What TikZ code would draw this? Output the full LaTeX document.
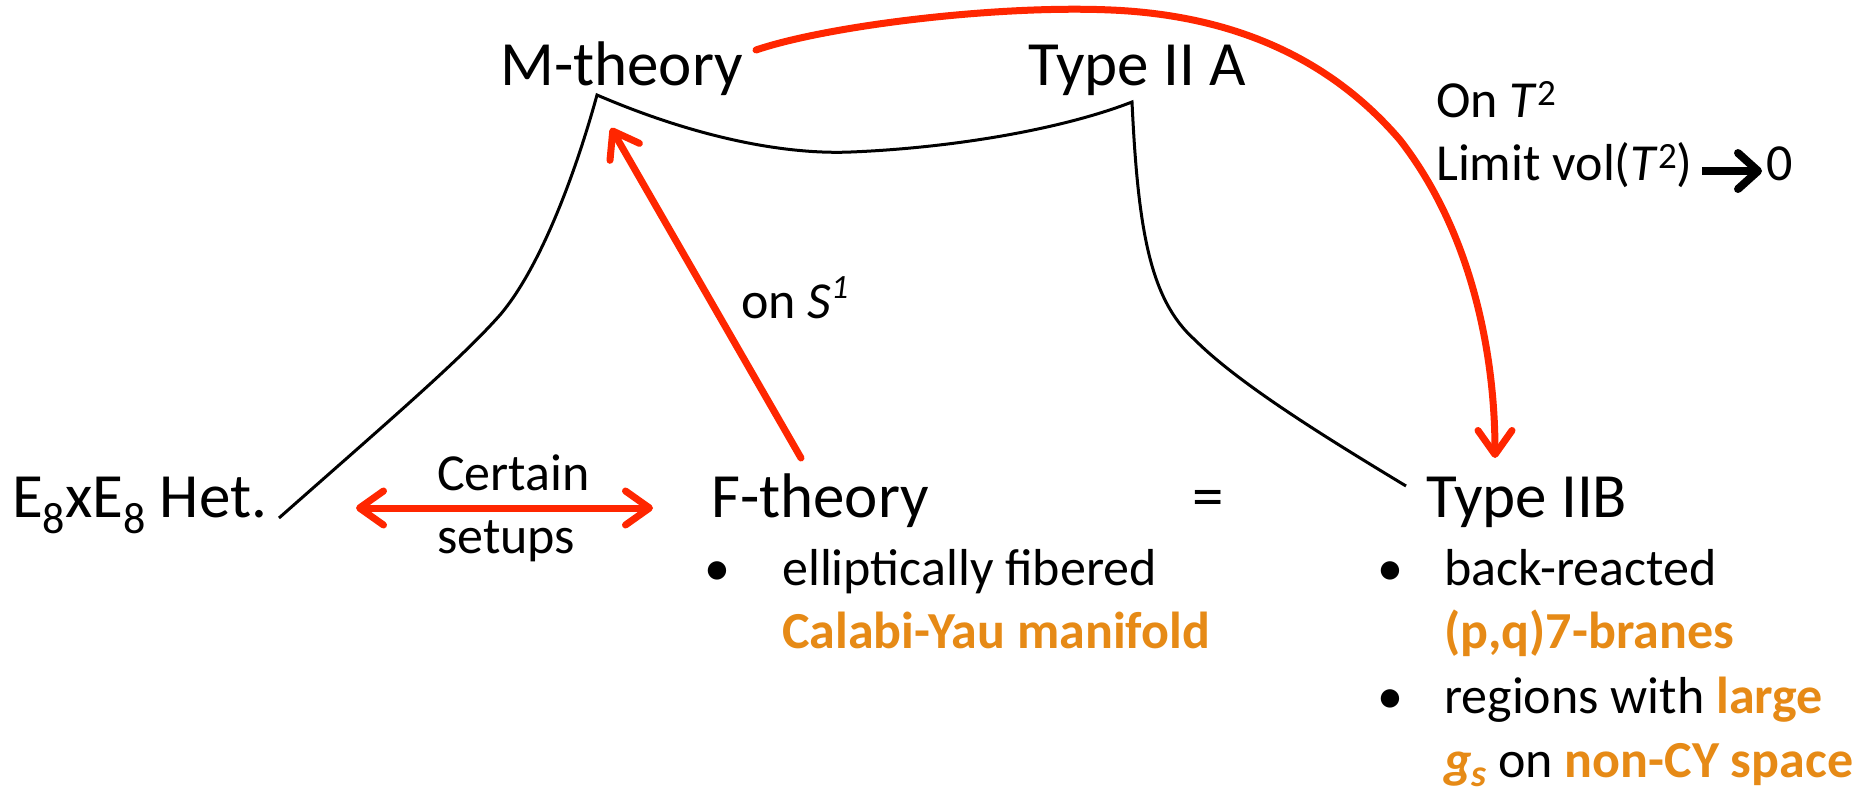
\documentclass[tikz,border=0pt]{standalone}
\usepackage{fontspec}
\setmainfont{Carlito}
\usetikzlibrary{arrows.meta}
\definecolor{redarr}{RGB}{255,38,0}
\definecolor{orng}{RGB}{230,138,22}
\newcommand{\mysup}[1]{\raisebox{12pt}{\fontsize{37}{37}\selectfont #1}}
\newcommand{\mysupb}[1]{\raisebox{20pt}{\fontsize{34}{34}\selectfont #1}}
\newcommand{\mysub}[1]{\raisebox{-16pt}{\fontsize{44}{44}\selectfont #1}}
\newcommand{\mysubs}[1]{\raisebox{-9pt}{\fontsize{38}{38}\selectfont #1}}
\begin{document}
\begin{tikzpicture}[x=1pt,y=-1pt,
  big/.style={font=\fontsize{63}{70}\selectfont, inner sep=0, anchor=base west},
  small/.style={font=\fontsize{52}{63}\selectfont, inner sep=0, anchor=base west},
  redline/.style={draw=redarr, line width=7pt, line cap=round, line join=round},
  barb/.style={-{Straight Barb[length=24pt,width=34pt,line cap=round,line join=round]}},
  dbarb/.style={{Straight Barb[length=24pt,width=34pt,line cap=round,line join=round]}-{Straight Barb[length=24pt,width=34pt,line cap=round,line join=round]}},
  blk/.style={draw=black, line width=3pt}
]
\useasboundingbox (0,0) rectangle (1866,792);

% labels
\node[big] (mth) at (500,85) {M-theory};
\node[big] (t2a) at (1028,85) {Type II A};
\node[big] (het) at (12,517) {E\mysub{8}xE\mysub{8} Het.};
\node[big] (fth) at (711,517) {F-theory};
\node[big] (eq) at (1192,517) {=};
\node[big] (t2b) at (1426,517) {Type IIB};

\node[small] (cert) at (437,490) {Certain};
\node[small] (setu) at (437,553) {setups};
\node[small] (ons1) at (741,318) {on \textit{S}\mysupb{\textit{1}}};
\node[small] (ont2) at (1436,117) {On \textit{T}\mysup{2}};
\node[small] (lim) at (1436,180) {Limit vol(\textit{T}\mysup{2})};
\node[small] (zero) at (1766,180) {0};

\node[small, anchor=base] (b1) at (717,585) {•};
\node[small] (f1) at (782,585) {elliptically fibered};
\node[small] (f2) at (782,648) {\textcolor{orng}{\bfseries Calabi-Yau manifold}};
\node[small, anchor=base] (b2) at (1390,585) {•};
\node[small] (i1) at (1444,585) {back-reacted};
\node[small] (i2) at (1444,648) {\textcolor{orng}{\bfseries (p,q)7-branes}};
\node[small, anchor=base] (b3) at (1390,713) {•};
\node[small] (i3) at (1444,713) {regions with \textcolor{orng}{\bfseries large}};
\node[small] (i4) at (1444,777) {\textcolor{orng}{\bfseries\itshape g\mysubs{s}} on \textcolor{orng}{\bfseries non-CY space}};

% black landscape curve
\coordinate (hl) at (279,518);
\coordinate (pk1) at (597,95);
\coordinate (pk2) at (1132,102);
\coordinate (tr) at (1406,486);
\draw[blk] (hl) .. controls (390,420) and (460,360) .. (500,315)
  .. controls (540,268) and (575,175) .. (pk1)
  .. controls (690,135) and (780,155) .. (851,152)
  .. controls (950,148) and (1060,130) .. (pk2)
  .. controls (1138,230) and (1150,300) .. (1195,340)
  .. controls (1240,385) and (1330,440) .. (tr);

% red arrows
\coordinate (da) at (356,508);
\coordinate (db) at (653,508);
\draw[redline, dbarb] (da) -- (db);

\coordinate (s1a) at (801,458);
\coordinate (s1b) at (611,128);
\draw[redline, barb] (s1a) -- (s1b);

\coordinate (ta) at (756,50);
\coordinate (tb) at (1495,458);
\draw[redline, barb] (ta) .. controls (830,25) and (1000,5) .. (1111,10)
  .. controls (1250,16) and (1340,70) .. (1400,140)
  .. controls (1470,230) and (1495,350) .. (tb);

% black arrow
\coordinate (la) at (1702,171);
\coordinate (lb) at (1762,171);
\draw[line width=8pt, -{Straight Barb[length=20pt,width=36pt,line cap=round,line join=round]}] (la) -- (lb);
\end{tikzpicture}
\end{document}
